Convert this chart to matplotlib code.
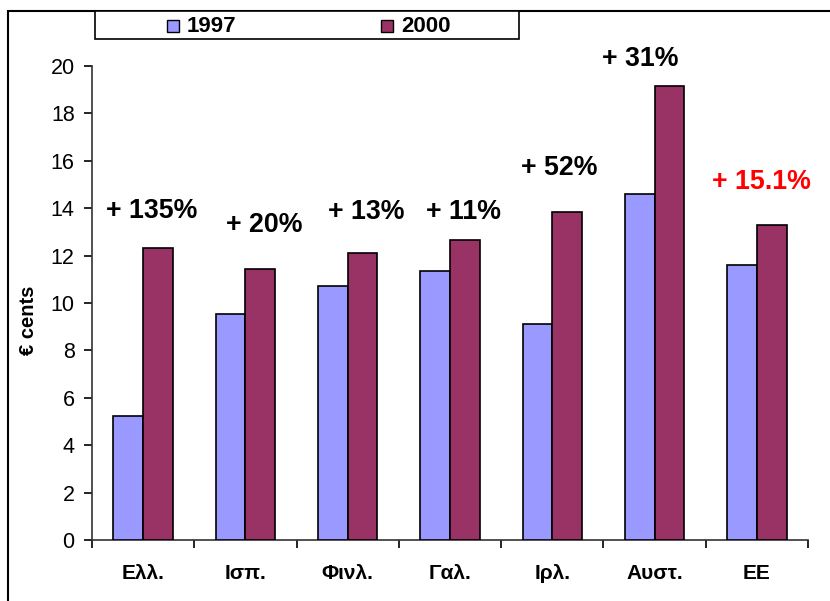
import matplotlib
matplotlib.use("Agg")
import matplotlib.pyplot as plt
from matplotlib.patches import Rectangle
import numpy as np

plt.rcParams['font.family'] = ['Liberation Sans', 'DejaVu Sans']

categories = ["Ελλ.", "Ισπ.", "Φινλ.", "Γαλ.", "Ιρλ.", "Αυστ.", "ΕΕ"]
series_names = ["1997", "2000"]
values_1997 = [5.25, 9.52, 10.7, 11.37, 9.1, 14.6, 11.6]
values_2000 = [12.3, 11.42, 12.12, 12.65, 13.84, 19.15, 13.3]
change_labels = ["+ 135%", "+ 20%", "+ 13%", "+ 11%", "+ 52%", "+ 31%", "+ 15.1%"]
change_label_y = [13.9, 13.3, 13.85, 13.85, 15.7, 20.3, 15.1]
yticks = [0, 2, 4, 6, 8, 10, 12, 14, 16, 18, 20]
colors = ["#9999FF", "#993366"]
label_colors = ["black"] * 6 + ["#FF0000"]
label_dx = [0.08, 0.18, 0.18, 0.13, 0.07, -0.14, 0.04]

W, H = 830, 601
fig = plt.figure(figsize=(W / 100, H / 100), dpi=100)
ax = fig.add_axes([92 / W, 1 - 540 / H, (808 - 92) / W, (540 - 66) / H])

n = len(categories)
x = np.arange(n) + 0.5
bw = 0.29
ax.bar(x - bw / 2, values_1997, bw, color=colors[0], edgecolor="black", linewidth=1.2, zorder=3)
ax.bar(x + bw / 2, values_2000, bw, color=colors[1], edgecolor="black", linewidth=1.2, zorder=3)

for i, (lab, yy) in enumerate(zip(change_labels, change_label_y)):
    ax.text(x[i] + label_dx[i], yy, lab, ha="center", va="center", fontsize=19.3,
            fontweight="bold", color=label_colors[i], clip_on=False)

ax.set_xlim(0, n)
ax.set_ylim(0, 20)
ax.set_yticks(yticks)
ax.set_yticklabels([str(t) for t in yticks], fontsize=15.5)
ax.tick_params(axis="y", direction="out", length=5.5, width=1.2, pad=7, colors="black")
ax.set_xticks(np.arange(n + 1))
ax.set_xticklabels([])
ax.tick_params(axis="x", which="major", direction="out", length=5.5, width=1.2)
ax.set_xticks(x, minor=True)
ax.set_xticklabels(categories, minor=True, fontsize=15, fontweight="bold")
ax.tick_params(axis="x", which="minor", length=0, pad=17)

for s in ["top", "right"]:
    ax.spines[s].set_visible(False)
for s in ["left", "bottom"]:
    ax.spines[s].set_linewidth(1.2)
    ax.spines[s].set_color("#333333")

ax.set_ylabel("€ cents", fontsize=14.5, fontweight="bold")
ax.yaxis.set_label_coords((38 - 92) / 716, (540 - 320) / 474)

# outer chart frame
fig.patches.append(Rectangle((8 / W, -0.1), 1.2, 1.1 - 11 / H, transform=fig.transFigure,
                             fill=False, edgecolor="black", linewidth=1.5, zorder=0))
# legend box
lx0, lx1, ly0, ly1 = 95, 519, 11, 39
fig.patches.append(Rectangle((lx0 / W, 1 - ly1 / H), (lx1 - lx0) / W, (ly1 - ly0) / H,
                             transform=fig.transFigure, facecolor="white",
                             edgecolor="black", linewidth=1.2, zorder=5))
marker_x = [167, 381]
for mx, name, c in zip(marker_x, series_names, colors):
    fig.patches.append(Rectangle((mx / W, 1 - 32 / H), 12 / W, 12 / H, transform=fig.transFigure,
                                 facecolor=c, edgecolor="black", linewidth=1.0, zorder=6))
    fig.text((mx + 20) / W, 1 - 26 / H, name, fontsize=16, fontweight="bold",
             ha="left", va="center", zorder=7)

fig.savefig("out.png", dpi=100)
